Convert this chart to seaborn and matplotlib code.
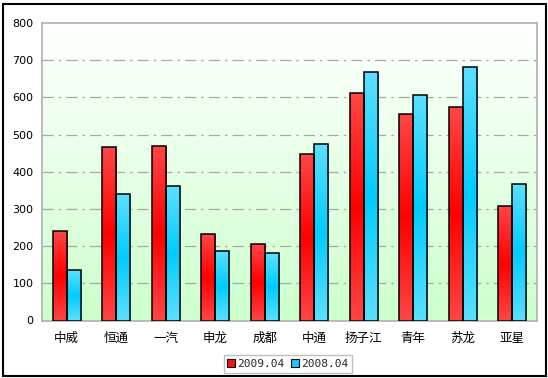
import numpy as np
import pandas as pd
import matplotlib
matplotlib.use("Agg")
import matplotlib.pyplot as plt
import seaborn as sns
from matplotlib.colors import LinearSegmentedColormap
from matplotlib.patches import Patch, Rectangle

brands = ["中威", "恒通", "一汽", "申龙", "成都", "中通", "扬子江", "青年", "苏龙", "亚星"]
series_names = ["2009.04", "2008.04"]
v2009 = [240, 466, 469, 232, 205, 447, 612, 555, 574, 307]
v2008 = [135, 340, 361, 186, 181, 474, 668, 606, 682, 367]
yticks = [0, 100, 200, 300, 400, 500, 600, 700, 800]

df = pd.DataFrame({
    "brand": brands * 2,
    "value": v2009 + v2008,
    "period": [series_names[0]] * len(brands) + [series_names[1]] * len(brands),
})

sns.set_theme(style="white")
plt.rcParams["font.family"] = ["Noto Sans CJK SC", "DejaVu Sans"]

W, H = 548, 378
fig = plt.figure(figsize=(W / 100, H / 100), dpi=100)
ax = fig.add_axes([42 / W, 1 - 320.5 / H, (537 - 42) / W, (320.5 - 23) / H])

red_c, cyan_c = "#ff2020", "#20ccff"
sns.barplot(data=df, x="brand", y="value", hue="period", palette=[red_c, cyan_c],
            width=0.57, edgecolor="black", linewidth=1.1, ax=ax, legend=False,
            saturation=1, zorder=3)

ax.set_ylim(0, 800)
ax.set_xlim(-0.5, len(brands) - 0.5)

# background gradient
bg = LinearSegmentedColormap.from_list("bg", ["#ccffcc", "#ffffff"])
grad = np.linspace(0, 1, 256).reshape(-1, 1)
ax.imshow(grad, cmap=bg, aspect="auto", extent=[-0.5, len(brands) - 0.5, 0, 800],
          origin="lower", zorder=0)

# bar gradients
cm_red = LinearSegmentedColormap.from_list("r", ["#ff4646", "#ff0000", "#ff4646"])
cm_cyan = LinearSegmentedColormap.from_list("c", ["#5ce0ff", "#00ccff", "#5ce0ff"])
for cont, cm in zip(ax.containers, [cm_red, cm_cyan]):
    for p in cont.patches:
        x0, y0 = p.get_x(), p.get_y()
        w, h = p.get_width(), p.get_height()
        im = ax.imshow(grad, cmap=cm, aspect="auto", extent=[x0, x0 + w, y0, y0 + h],
                       origin="lower", zorder=2)
        im.set_clip_path(p)
        p.set_facecolor("none")

ax.set_xlim(-0.5, len(brands) - 0.5)
ax.set_ylim(0, 800)

ax.set_yticks(yticks)
ax.set_yticklabels([str(t) for t in yticks], family="DejaVu Sans", fontsize=8)
ax.set_xticks(range(len(brands)))
ax.set_xticklabels(brands, fontsize=9)
ax.tick_params(axis="both", which="major", length=0, pad=6, colors="black")
ax.tick_params(axis="x", pad=8)
ax.set_xticks(np.arange(0.5, len(brands) - 0.5, 1), minor=True)
ax.tick_params(axis="x", which="minor", length=3, direction="in", color="#a0a0a0")
ax.set_xlabel("")
ax.set_ylabel("")

for y in yticks[1:-1]:
    ax.axhline(y, color="#a8a8a8", linewidth=0.9, linestyle=(0, (9, 4, 2, 4)), zorder=1)

for s in ax.spines.values():
    s.set_color("#b0b0b0")
    s.set_linewidth(1.2)

handles = [Patch(facecolor="#ff1010", edgecolor="black", linewidth=0.8),
           Patch(facecolor="#10ccff", edgecolor="black", linewidth=0.8)]
leg = fig.legend(handles, series_names, loc="center", bbox_to_anchor=(288 / W, 1 - 364 / H),
                 ncol=2, fontsize=8, frameon=True, fancybox=False, edgecolor="#b0b0b0",
                 handlelength=0.7, handleheight=0.7, handletextpad=0.2, columnspacing=0.6,
                 borderpad=0.35, prop={"family": "DejaVu Sans Mono", "size": 8})
leg.get_frame().set_linewidth(1)

fig.patches.append(Rectangle((3 / W, 1 - 376 / H), 543 / W, 372 / H, transform=fig.transFigure,
                             fill=False, edgecolor="black", linewidth=1.5))

fig.savefig("out.png", dpi=100)
